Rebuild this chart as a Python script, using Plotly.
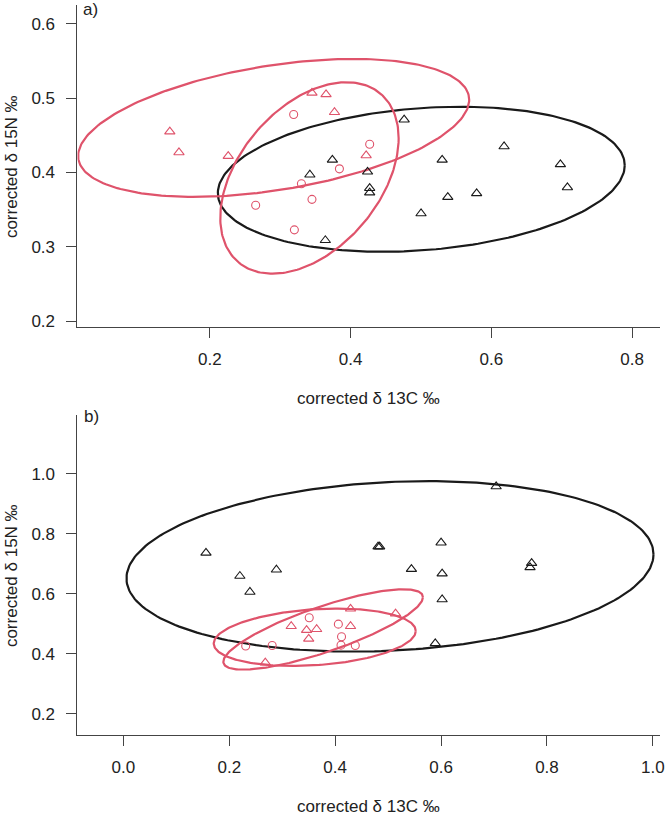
import numpy as np
import plotly.graph_objects as go

# ---------------- data ----------------
# panel a
a_black_x = [0.476, 0.618, 0.530, 0.698, 0.708, 0.579, 0.538, 0.500, 0.374, 0.342, 0.424, 0.427, 0.427, 0.364]
a_black_y = [0.471, 0.435, 0.417, 0.411, 0.380, 0.372, 0.367, 0.345, 0.417, 0.397, 0.401, 0.379, 0.373, 0.309]
a_red_tri_x = [0.143, 0.156, 0.226, 0.345, 0.365, 0.377, 0.422]
a_red_tri_y = [0.455, 0.427, 0.422, 0.507, 0.505, 0.481, 0.423]
a_red_circ_x = [0.319, 0.427, 0.384, 0.330, 0.345, 0.265, 0.320]
a_red_circ_y = [0.478, 0.438, 0.405, 0.385, 0.364, 0.356, 0.323]

# panel b
b_black_x = [0.156, 0.220, 0.289, 0.239, 0.481, 0.484, 0.600, 0.544, 0.602, 0.602, 0.589, 0.704, 0.771, 0.768]
b_black_y = [0.736, 0.659, 0.680, 0.606, 0.757, 0.757, 0.770, 0.682, 0.667, 0.581, 0.435, 0.957, 0.702, 0.688]
b_red_tri_x = [0.429, 0.514, 0.317, 0.346, 0.365, 0.350, 0.429, 0.268]
b_red_tri_y = [0.550, 0.534, 0.492, 0.479, 0.482, 0.450, 0.492, 0.371]
b_red_circ_x = [0.351, 0.406, 0.412, 0.411, 0.438, 0.231, 0.281]
b_red_circ_y = [0.520, 0.499, 0.457, 0.429, 0.428, 0.426, 0.428]

a_yticks = [0.2, 0.3, 0.4, 0.5, 0.6]
a_xticks = [0.2, 0.4, 0.6, 0.8]
b_yticks = [0.2, 0.4, 0.6, 0.8, 1.0]
b_xticks = [0.0, 0.2, 0.4, 0.6, 0.8, 1.0]

x_title = "corrected δ 13C ‰"
y_title = "corrected δ 15N ‰"
ELLIPSE_P = 0.95

RED = "#DF536B"
BLACK = "#1a1a1a"
AXC = "#444444"
FONT = "Liberation Sans, Arial, Helvetica, sans-serif"
FS = 17

W, H = 669, 816


def ellipse(x, y, p=ELLIPSE_P, n=240):
    x = np.asarray(x, float)
    y = np.asarray(y, float)
    mu = np.array([x.mean(), y.mean()])
    S = np.cov(np.vstack([x, y]))
    L = np.linalg.cholesky(S)
    c = np.sqrt(-2.0 * np.log(1.0 - p))  # chi-square quantile, 2 df
    t = np.linspace(0, 2 * np.pi, n)
    pts = mu[:, None] + c * L @ np.vstack([np.cos(t), np.sin(t)])
    return pts[0], pts[1]


fig = go.Figure()


def add_panel(xa, ya, bx, by, rtx, rty, rcx, rcy):
    for (ex, ey, col) in [(bx, by, BLACK), (rtx, rty, RED), (rcx, rcy, RED)]:
        px, py = ellipse(ex, ey)
        fig.add_trace(go.Scatter(x=px, y=py, mode="lines", xaxis=xa, yaxis=ya,
                                 line=dict(color=col, width=2.2), hoverinfo="skip",
                                 showlegend=False))
    fig.add_trace(go.Scatter(x=bx, y=by, mode="markers", xaxis=xa, yaxis=ya,
                             marker=dict(symbol="triangle-up-open", size=9,
                                         color=BLACK, line=dict(width=1.1, color=BLACK)),
                             showlegend=False))
    fig.add_trace(go.Scatter(x=rtx, y=rty, mode="markers", xaxis=xa, yaxis=ya,
                             marker=dict(symbol="triangle-up-open", size=9,
                                         color=RED, line=dict(width=1.1, color=RED)),
                             showlegend=False))
    fig.add_trace(go.Scatter(x=rcx, y=rcy, mode="markers", xaxis=xa, yaxis=ya,
                             marker=dict(symbol="circle-open", size=8,
                                         color=RED, line=dict(width=1.1, color=RED)),
                             showlegend=False))


add_panel("x", "y", a_black_x, a_black_y, a_red_tri_x, a_red_tri_y, a_red_circ_x, a_red_circ_y)
add_panel("x2", "y2", b_black_x, b_black_y, b_red_tri_x, b_red_tri_y, b_red_circ_x, b_red_circ_y)

# plot regions in pixels
L_PX, R_PX = 78, 665
A_TOP, A_BOT = 5, 329
B_TOP, B_BOT = 417, 739

axis_common = dict(showgrid=False, zeroline=False, showline=True, linecolor=AXC, linewidth=1,
                   ticks="outside", ticklen=10, tickwidth=1, tickcolor=AXC,
                   tickfont=dict(family=FONT, size=FS, color="#222"), tickformat=".1f",
                   ticklabeloverflow="allow")

fig.update_layout(
    width=W, height=H, margin=dict(l=0, r=0, t=0, b=0),
    paper_bgcolor="white", plot_bgcolor="white",
    xaxis=dict(domain=[L_PX / W, R_PX / W], range=[0.0117, 0.8396], anchor="y",
               tickvals=a_xticks, ticklabelstandoff=6, **axis_common),
    yaxis=dict(domain=[1 - A_BOT / H, 1 - A_TOP / H], range=[0.192, 0.6251], anchor="x",
               tickvals=a_yticks, ticklabelstandoff=8, **axis_common),
    xaxis2=dict(domain=[L_PX / W, R_PX / W], range=[-0.0868, 1.0135], anchor="y2",
                tickvals=b_xticks, ticklabelstandoff=6, **axis_common),
    yaxis2=dict(domain=[1 - B_BOT / H, 1 - B_TOP / H], range=[0.1288, 1.195], anchor="x2",
                tickvals=b_yticks, ticklabelstandoff=8, **axis_common),
)

ann_font = dict(family=FONT, size=FS, color="#222")
xc = (L_PX + R_PX) / 2 / W
anns = [
    dict(text=x_title, x=xc, y=1 - 400 / H, xanchor="center", yanchor="middle"),
    dict(text=x_title, x=xc, y=1 - 810 / H, xanchor="center", yanchor="middle"),
    dict(text=y_title, x=11 / W, y=1 - (A_TOP + A_BOT) / 2 / H, xanchor="center",
         yanchor="middle", textangle=-90),
    dict(text=y_title, x=11 / W, y=1 - (B_TOP + B_BOT) / 2 / H, xanchor="center",
         yanchor="middle", textangle=-90),
    dict(text="a)", x=82 / W, y=1 - 10 / H, xanchor="left", yanchor="middle"),
    dict(text="b)", x=83 / W, y=1 - 419 / H, xanchor="left", yanchor="middle"),
]
for a in anns:
    fig.add_annotation(xref="paper", yref="paper", showarrow=False, font=ann_font, **a)

fig.write_html("out.html")
